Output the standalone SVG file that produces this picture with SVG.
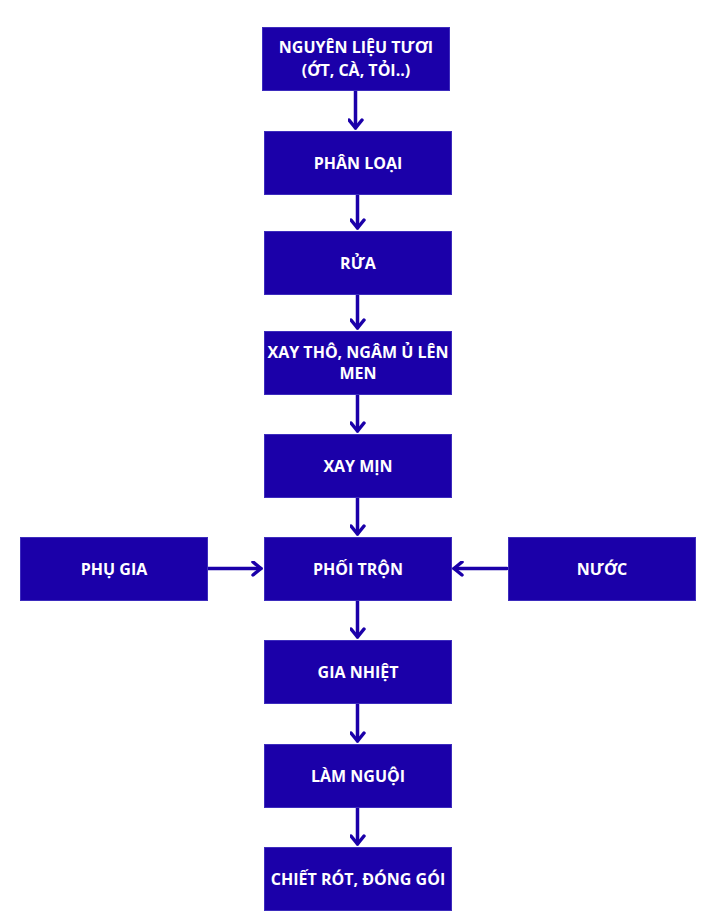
<svg xmlns="http://www.w3.org/2000/svg" width="710" height="920" viewBox="0 0 710 920">
<defs>
<style>
.box{fill:#1b00a9;stroke:#3d2cbd;stroke-width:1}
.t{fill:#ffffff;font-family:"Open Sans","Noto Sans","DejaVu Sans",sans-serif;font-weight:700;font-size:16px;text-anchor:middle}
.c{stroke:#1b00a9;stroke-width:3.5;fill:none;stroke-linecap:round;stroke-linejoin:round}
</style>
<marker id="ah" viewBox="0 0 12 16" refX="10" refY="8" markerWidth="12" markerHeight="16" markerUnits="userSpaceOnUse" orient="auto">
<path d="M2,1.5 L10,8 L2,14.5" fill="none" stroke="#1b00a9" stroke-width="3.5" stroke-linecap="round" stroke-linejoin="round"/>
</marker>
</defs>
<rect width="710" height="920" fill="#ffffff"/>
<g id="connectors">
<line class="c" x1="355.5" y1="91" x2="355.5" y2="128" marker-end="url(#ah)"/>
<line class="c" x1="357.5" y1="195" x2="357.5" y2="228" marker-end="url(#ah)"/>
<line class="c" x1="357.5" y1="295" x2="357.5" y2="328" marker-end="url(#ah)"/>
<line class="c" x1="357.5" y1="395" x2="357.5" y2="431" marker-end="url(#ah)"/>
<line class="c" x1="357.5" y1="498" x2="357.5" y2="534" marker-end="url(#ah)"/>
<line class="c" x1="357.5" y1="601" x2="357.5" y2="637" marker-end="url(#ah)"/>
<line class="c" x1="357.5" y1="704" x2="357.5" y2="741" marker-end="url(#ah)"/>
<line class="c" x1="357.5" y1="808" x2="357.5" y2="844" marker-end="url(#ah)"/>
<line class="c" x1="208" y1="568.5" x2="261" y2="568.5" marker-end="url(#ah)"/>
<line class="c" x1="507" y1="568.5" x2="454" y2="568.5" marker-end="url(#ah)"/>
</g>
<g id="n1"><rect class="box" x="262.5" y="27.5" width="187" height="63"/><text class="t" x="356" y="53">NGUYÊN LIỆU TƯƠI</text><text class="t" x="356" y="76">(ỚT, CÀ, TỎI..)</text></g>
<g id="n2"><rect class="box" x="264.5" y="131.5" width="187" height="63"/><text class="t" x="358" y="168.5">PHÂN LOẠI</text></g>
<g id="n3"><rect class="box" x="264.5" y="231.5" width="187" height="63"/><text class="t" x="358" y="268.5">RỬA</text></g>
<g id="n4"><rect class="box" x="264.5" y="331.5" width="187" height="63"/><text class="t" x="358" y="357.5">XAY THÔ, NGÂM Ủ LÊN</text><text class="t" x="358" y="379">MEN</text></g>
<g id="n5"><rect class="box" x="264.5" y="434.5" width="187" height="63"/><text class="t" x="358" y="471.5">XAY MỊN</text></g>
<g id="n6"><rect class="box" x="264.5" y="537.5" width="187" height="63"/><text class="t" x="358" y="574.5">PHỐI TRỘN</text></g>
<g id="n7"><rect class="box" x="20.5" y="537.5" width="187" height="63"/><text class="t" x="114" y="574.5">PHỤ GIA</text></g>
<g id="n8"><rect class="box" x="508.5" y="537.5" width="187" height="63"/><text class="t" x="602" y="574.5">NƯỚC</text></g>
<g id="n9"><rect class="box" x="264.5" y="640.5" width="187" height="63"/><text class="t" x="358" y="677.5">GIA NHIỆT</text></g>
<g id="n10"><rect class="box" x="264.5" y="744.5" width="187" height="63"/><text class="t" x="358" y="781.5">LÀM NGUỘI</text></g>
<g id="n11"><rect class="box" x="264.5" y="847.5" width="187" height="63"/><text class="t" x="358" y="884.5">CHIẾT RÓT, ĐÓNG GÓI</text></g>
</svg>
